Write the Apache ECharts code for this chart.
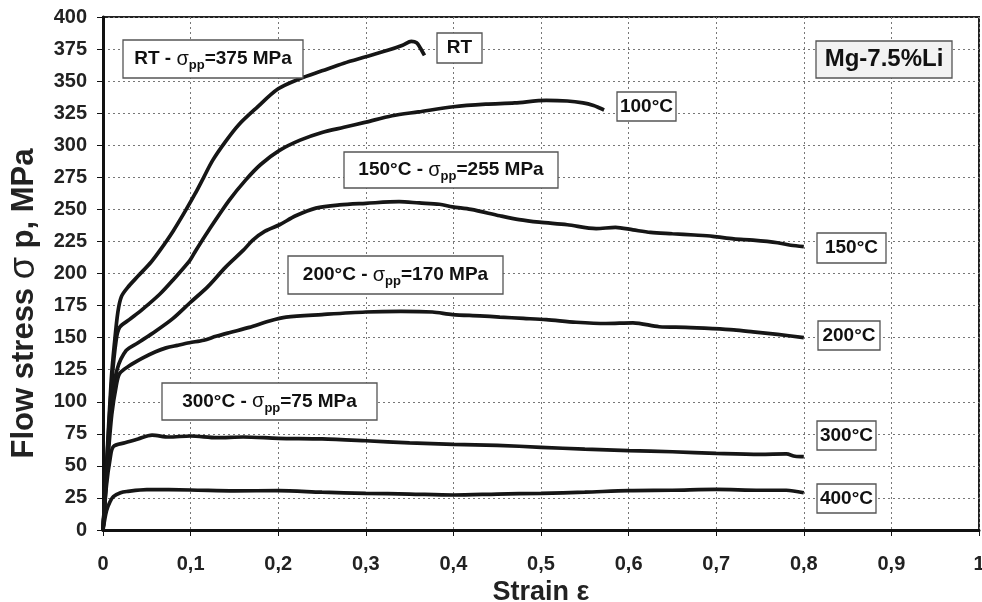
<!DOCTYPE html>
<html>
<head>
<meta charset="utf-8">
<script src="https://cdn.jsdelivr.net/npm/echarts@6/dist/echarts.min.js"></script>
<style>
  html, body { margin: 0; padding: 0; background: #fff; }
  #chart { width: 982px; height: 602px; }
</style>
</head>
<body>
<div id="chart"></div>
<script>
// flow curves, strain vs flow stress (MPa)
var rtStrain = [0, 0.004, 0.0094, 0.013, 0.017, 0.021, 0.028, 0.04, 0.055, 0.065, 0.08, 0.095, 0.105, 0.115, 0.125, 0.14, 0.155, 0.175, 0.2, 0.225, 0.25, 0.275, 0.3, 0.325, 0.342, 0.352, 0.358, 0.362, 0.367];
var rtStress = [0, 50, 117, 145, 170, 182, 189, 198, 209, 218, 233, 250, 262, 275, 288, 303, 316, 329, 344, 352, 358, 364, 369, 374, 378, 381, 380, 376, 370];

var t100Strain = [0, 0.005, 0.01, 0.015, 0.019, 0.03, 0.045, 0.065, 0.08, 0.099, 0.106, 0.12, 0.144, 0.163, 0.18, 0.2015, 0.225, 0.25, 0.275, 0.3, 0.33, 0.36, 0.4, 0.437, 0.47, 0.506, 0.53, 0.548, 0.56, 0.567, 0.572];
var t100Stress = [0, 60, 115, 148, 158, 164, 172, 184, 195, 210, 218, 233, 257, 273, 285, 296, 304, 310, 314, 318, 323, 326, 330, 332, 333, 335, 334.5, 333, 331, 329, 327.5];

var t150Strain = [0, 0.005, 0.01, 0.016, 0.0265, 0.04, 0.06, 0.08, 0.099, 0.12, 0.14, 0.16, 0.171, 0.185, 0.2015, 0.22, 0.243, 0.27, 0.3, 0.338, 0.361, 0.384, 0.399, 0.42, 0.453, 0.475, 0.498, 0.53, 0.563, 0.585, 0.605, 0.625, 0.65, 0.675, 0.696, 0.72, 0.742, 0.77, 0.785, 0.8];
var t150Stress = [0, 55, 100, 125, 140, 146, 155, 165, 177, 190, 205, 218, 226, 233, 238, 245, 251, 253.5, 254.7, 256, 255, 254, 252, 250, 245, 242, 240, 238, 235, 236, 234, 232, 231, 230, 229, 227, 226, 224, 222, 221];

var t200Strain = [0, 0.005, 0.01, 0.015, 0.019, 0.03, 0.045, 0.06, 0.072, 0.085, 0.0987, 0.115, 0.129, 0.145, 0.167, 0.19, 0.209, 0.25, 0.3, 0.34, 0.376, 0.399, 0.43, 0.453, 0.48, 0.506, 0.54, 0.574, 0.605, 0.635, 0.665, 0.696, 0.72, 0.742, 0.77, 0.8];
var t200Stress = [0, 50, 90, 112, 122, 128, 134, 139, 142, 144, 146, 148, 151, 154, 158, 163, 166, 168, 170, 170.5, 170, 168, 167, 166, 165, 164, 162, 161, 161.5, 158.5, 158, 157, 156, 154.5, 152.5, 150];

var t300Strain = [0, 0.004, 0.008, 0.0118, 0.025, 0.04, 0.056, 0.075, 0.1, 0.13, 0.16, 0.2, 0.25, 0.3, 0.35, 0.4, 0.45, 0.5, 0.55, 0.6, 0.65, 0.7, 0.75, 0.78, 0.79, 0.8];
var t300Stress = [0, 35, 55, 65, 68, 71, 74, 72.5, 73.3, 72, 72.5, 71.5, 71, 69.6, 68, 66.8, 66, 64.5, 63, 61.9, 61, 59.8, 59, 59.3, 57.5, 57.2];

var t400Strain = [0, 0.004, 0.008, 0.0118, 0.02, 0.027, 0.05, 0.1, 0.15, 0.2, 0.25, 0.3, 0.35, 0.4, 0.45, 0.5, 0.55, 0.6, 0.65, 0.7, 0.75, 0.78, 0.8];
var t400Stress = [0, 15, 22, 26, 29, 30, 31.5, 31.2, 30.5, 30.7, 29.5, 28.6, 28, 27.3, 28, 28.6, 29.5, 30.7, 31, 31.7, 31, 31, 29];

var curveNames = ['RT', '100°C', '150°C', '200°C', '300°C', '400°C'];
var curveStrain = [rtStrain, t100Strain, t150Strain, t200Strain, t300Strain, t400Strain];
var curveStress = [rtStress, t100Stress, t150Stress, t200Stress, t300Stress, t400Stress];

// boxed annotations
var notes = [
    {text: '{b|RT - }{s|σ}{sub|pp}{b|=375 MPa}', box: [123, 40, 180, 38]},
    {text: '{b|RT}', box: [437, 33, 45, 30]},
    {text: '{b|100°C}', box: [617, 92, 59, 29]},
    {text: '{b|150°C - }{s|σ}{sub|pp}{b|=255 MPa}', box: [344, 152, 214, 36]},
    {text: '{big|Mg-7.5%Li}', box: [816, 41, 136, 37], fill: '#f2f2f2'},
    {text: '{b|150°C}', box: [817, 233, 69, 30]},
    {text: '{b|200°C - }{s|σ}{sub|pp}{b|=170 MPa}', box: [288, 256, 215, 38]},
    {text: '{b|200°C}', box: [818, 321, 62, 29]},
    {text: '{b|300°C - }{s|σ}{sub|pp}{b|=75 MPa}', box: [162, 383, 215, 37]},
    {text: '{b|300°C}', box: [817, 421, 59, 29]},
    {text: '{b|400°C}', box: [817, 484, 59, 29]}
];

var font = 'Liberation Sans, Arial, sans-serif';
var richNote = {
    b: {fontFamily: font, fontSize: 19, fontWeight: 'bold', fill: '#111', lineHeight: 26},
    s: {fontFamily: font, fontSize: 20, fontWeight: 'normal', fill: '#111', lineHeight: 26},
    sub: {fontFamily: font, fontSize: 13, fontWeight: 'bold', fill: '#111', lineHeight: 14, verticalAlign: 'bottom'},
    big: {fontFamily: font, fontSize: 24, fontWeight: 'bold', fill: '#111', lineHeight: 28}
};

var series = [];
curveNames.forEach(function (name, i) {
    var pts = [];
    curveStrain[i].forEach(function (x, j) {
        pts.push([x, curveStress[i][j]]);
    });
    series.push({
        name: name,
        type: 'line',
        data: pts,
        showSymbol: false,
        symbol: 'none',
        smooth: 0.3,
        lineStyle: {color: '#161616', width: 3.7},
        z: 3
    });
});

var graphics = notes.map(function (n) {
    return {
        type: 'group',
        z: 10,
        children: [
            {
                type: 'rect',
                shape: {x: n.box[0], y: n.box[1], width: n.box[2], height: n.box[3]},
                style: {fill: n.fill || '#fff', stroke: '#555', lineWidth: 1.3},
                z: 10
            },
            {
                type: 'text',
                x: n.box[0] + n.box[2] / 2,
                y: n.box[1] + n.box[3] / 2,
                z: 11,
                style: {
                    text: n.text,
                    rich: richNote,
                    font: 'bold 19px ' + font,
                    fill: '#111',
                    align: 'center',
                    verticalAlign: 'middle'
                }
            }
        ]
    };
});

var chart = echarts.init(document.getElementById('chart'));
var option = {
    animation: false,
    backgroundColor: '#fff',
    grid: {
        left: 103, right: 3, top: 17, bottom: 72,
        outerBoundsMode: 'none',
        containLabel: false,
        show: true, borderColor: '#222', borderWidth: 2
    },
    xAxis: {
        type: 'value',
        min: 0, max: 1, interval: 0.1,
        name: 'Strain ε',
        nameLocation: 'middle',
        nameGap: 47,
        nameTextStyle: {fontFamily: font, fontSize: 27, fontWeight: 'bold', color: '#222'},
        axisLine: {show: true, lineStyle: {color: '#111', width: 3}},
        axisTick: {show: true, length: 6, lineStyle: {color: '#111', width: 1}},
        axisLabel: {
            margin: 24,
            fontFamily: font, fontSize: 20, fontWeight: 'bold', color: '#222',
            formatter: function (v) { return String(Math.round(v * 10) / 10).replace('.', ','); }
        },
        splitLine: {show: true, lineStyle: {color: '#777', width: 1, type: [2, 3]}}
    },
    yAxis: {
        type: 'value',
        min: 0, max: 400, interval: 25,
        name: '{a|Flow stress }{g|σ}{a| p, MPa}',
        nameLocation: 'middle',
        nameRotate: 90,
        nameGap: 61,
        nameTextStyle: {
            padding: [0, 60, 0, 0],
            rich: {
                a: {fontFamily: font, fontSize: 31, fontWeight: 'bold', color: '#222'},
                g: {fontFamily: font, fontSize: 36, fontWeight: 'normal', color: '#222'}
            }
        },
        axisLine: {show: true, lineStyle: {color: '#111', width: 3}},
        axisTick: {show: true, length: 6, lineStyle: {color: '#111', width: 1}},
        axisLabel: {margin: 16, fontFamily: font, fontSize: 20, fontWeight: 'bold', color: '#222'},
        splitLine: {show: true, lineStyle: {color: '#777', width: 1, type: [2, 3]}}
    },
    graphic: graphics,
    series: series
};
chart.setOption(option);
</script>
</body>
</html>
